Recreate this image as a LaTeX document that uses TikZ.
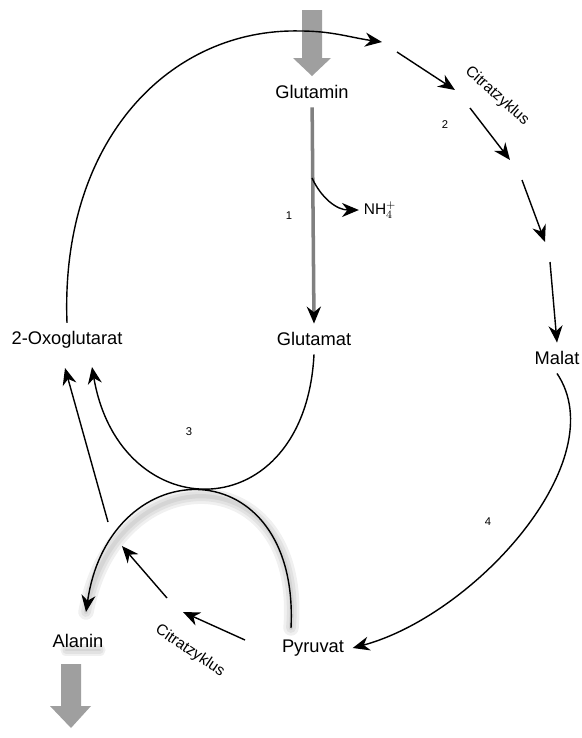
\documentclass[tikz,border=0pt]{standalone}
\usepackage{fontspec}
\setmainfont{Liberation Sans}
\usetikzlibrary{arrows.meta}

\begin{document}
\begin{tikzpicture}[x=0.025cm, y=-0.025cm,
  metab/.style={font=\fontsize{13}{15}\selectfont, inner sep=6pt},
  enzno/.style={font=\fontsize{8}{9}\selectfont},
  cyclab/.style={font=\fontsize{11}{13}\selectfont},
  flow/.style={line width=1pt, -{Stealth[length=12pt,width=10pt,color=black]}},
  shade/.style={black, opacity=0.06, line cap=round}]
  \useasboundingbox (0,0) rectangle (582,738);

  % metabolites
  \node[metab] (gln) at (312,92) {Glutamin};
  \node[metab] (glu) at (314,339) {Glutamat};
  \node[metab] (akg) at (67,340) {2-Oxoglutarat};
  \node[metab] (mal) at (557,358) {Malat};
  \node[metab] (pyr) at (313,648) {Pyruvat};
  \node[metab] (ala) at (78,641) {Alanin};
  \node[font=\fontsize{11}{13}\selectfont] (nh4) at (380,210) {NH$_4^+$};

  % points on the arcs
  \coordinate (br) at (312,178);
  \coordinate (s1) at (382,42);
  \coordinate (s2) at (397,52);
  \coordinate (s3) at (455,90);
  \coordinate (s4) at (470,108);
  \coordinate (s5) at (510,160);
  \coordinate (s6) at (522,180);
  \coordinate (s7) at (545,242);
  \coordinate (s8) at (550,262);
  \coordinate (a1) at (92,367);
  \coordinate (a2) at (65,368);
  \coordinate (p1) at (291,628);
  \coordinate (l1) at (86,612);
  \coordinate (q0) at (245,640);
  \coordinate (q1) at (183,612);
  \coordinate (q2) at (167,598);
  \coordinate (q3) at (122,546);
  \coordinate (q4) at (108,522);

  % gray in and out arrows
  \fill[gray!75] (302,10) -- (322,10) -- (322,58) -- (331,58) -- (312,76)
    -- (293,58) -- (302,58) -- cycle;
  \foreach \w in {2,5,8}
    \draw[shade, line width=\w pt, line join=round] (71,672) -- (71,718) (66,650) -- (100,650);
  \fill[gray!75] (61,664) -- (81,664) -- (81,706) -- (91,706) -- (71,728)
    -- (50,706) -- (61,706) -- cycle;

  % glutaminase
  \draw[flow, draw=gray, line width=2.5pt] (gln) -- (glu.north);
  \draw[flow] (br) to[out=-65,in=180] (nh4.west);
  \node[enzno] at (289,216) {1};

  % outer cycle
  \draw[flow] (akg.north) .. controls (60,140) and (170,28) .. (300,31)
    to[out=0,in=172] (s1);
  \draw[flow] (s2) -- (s3);
  \draw[flow] (s4) -- (s5);
  \draw[flow] (s6) -- (s7);
  \draw[flow] (s8) -- (mal.north);
  \node[enzno] at (445,125) {2};
  \node[cyclab, rotate=-42] at (497,96) {Citratzyklus};
  \draw[flow] (mal.south) .. controls (615,460) and (475,615) .. (pyr.east);
  \node[enzno] at (488,522) {4};

  % transamination
  \foreach \w in {3,7,11}
    \draw[shade, line width=\w pt, shift={(5,7)}] (p1) .. controls (300,448) and (110,448) .. (l1);
  \draw[flow] (glu.south) .. controls (305,530) and (120,530) .. (a1);
  \draw[flow] (p1) .. controls (300,448) and (110,448) .. (l1);
  \node[enzno] at (189,432) {3};

  % back to 2-oxoglutarate
  \draw[flow] (q0) -- (q1);
  \draw[flow] (q2) -- (q3);
  \draw[flow] (q4) -- (a2);
  \node[cyclab, rotate=-34] at (190,651) {Citratzyklus};
\end{tikzpicture}
\end{document}
